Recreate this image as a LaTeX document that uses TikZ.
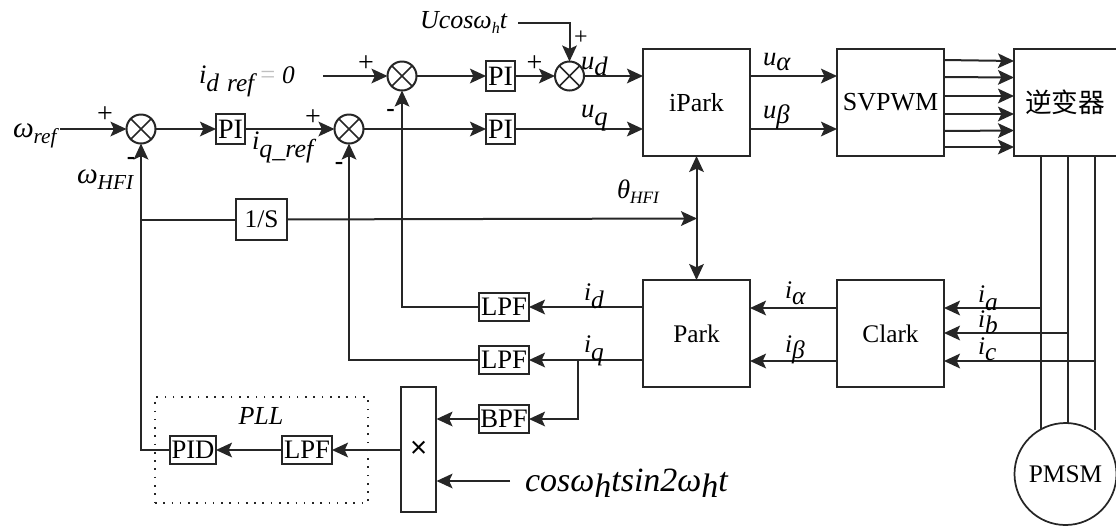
\documentclass[tikz,border=0pt]{standalone}
\usepackage{fontspec}
\setmainfont{Liberation Serif}
\newfontfamily\cjkf{Noto Sans CJK SC}
\newfontfamily\sansf{Liberation Sans}
\usetikzlibrary{arrows.meta,calc}
\newcommand{\fsz}[1]{\fontsize{#1}{#1}\selectfont}
\newcommand{\lw}[2]{\raisebox{-#1pt}{#2}}
\tikzset{
  wire/.style={line width=1.5pt,draw=black!85},
  arr/.style={wire,-{Stealth[length=12pt,width=11pt,inset=2.5pt]}},
  darr/.style={wire,{Stealth[length=12pt,width=11pt,inset=2.5pt]}-{Stealth[length=12pt,width=11pt,inset=2.5pt]}},
  bigbox/.style={draw=black!85,line width=1.5pt,rectangle,inner sep=0,outer sep=0,minimum width=80.25pt,minimum height=80.25pt,font=\fsz{19.5}},
  smallbox/.style={draw=black!85,line width=1.5pt,rectangle,inner sep=0,outer sep=0,minimum height=21pt,font=\fsz{20}},
  sumnode/.style={draw=black!85,line width=1.5pt,circle,inner sep=0,outer sep=0,minimum size=21.75pt,
    path picture={\draw[line width=1.1pt,black!85] (path picture bounding box.north west)--(path picture bounding box.south east)
      (path picture bounding box.north east)--(path picture bounding box.south west);}},
  lab/.style={inner sep=0,outer sep=0,anchor=base west,font=\fsz{18}\itshape},
  sgn/.style={inner sep=0,outer sep=0,font=\fsz{21}},
  msgn/.style={inner sep=0,outer sep=0,font=\fsz{19}\bfseries},
}
\begin{document}
\begin{tikzpicture}[x=.75pt,y=-.75pt]
\useasboundingbox (0,0) rectangle (1116,526);
% summers
\node[sumnode] (S1) at (141,129) {};
\node[sumnode] (S2) at (349,129) {};
\node[sumnode] (S3) at (402,76) {};
\node[sumnode] (S4) at (569.5,76) {};
% small boxes
\node[smallbox,minimum width=21.75pt,minimum height=22pt,font=\fsz{21}] (PIa) at (230.5,129) {PI};
\node[smallbox,minimum width=21.75pt,minimum height=22pt,font=\fsz{21}] (PIb) at (500.5,76) {PI};
\node[smallbox,minimum width=21.75pt,minimum height=22pt,font=\fsz{21}] (PIc) at (500.5,129) {PI};
\node[smallbox,minimum width=38pt,minimum height=31pt,font=\fsz{19}] (Int) at (261.5,219.5) {1/S};
\node[smallbox,minimum width=37.5pt] (LPFd) at (504,307) {LPF};
\node[smallbox,minimum width=37.5pt] (LPFq) at (504,360) {LPF};
\node[smallbox,minimum width=37.5pt] (BPF) at (504,419) {BPF};
\node[smallbox,minimum width=37.5pt] (LPFp) at (307,450) {LPF};
\node[smallbox,minimum width=34.5pt] (PID) at (193,450) {PID};
\node[smallbox,minimum width=26.5pt,minimum height=94pt,font=\sansf\fsz{22}] (Mul) at (418.7,449.5) {×};
% big boxes
\node[bigbox] (iPark) at (696.5,102.5) {iPark};
\node[bigbox] (SV) at (890.5,102.5) {SVPWM};
\node[bigbox,minimum width=78.75pt,font=\cjkf\fsz{20}] (Inv) at (1066.5,102.5) {\hspace*{-2pt}逆变器};
\node[bigbox,font=\fsz{19}] (Park) at (696.5,333.5) {Park};
\node[bigbox,font=\fsz{19}] (Clark) at (890.5,333.5) {Clark};
\node[draw=black!85,line width=1.3pt,circle,inner sep=0,outer sep=0,minimum size=76.5pt,font=\fsz{19}] (PMSM) at (1065.5,474) {\raisebox{-3pt}{PMSM}};
\node[draw=black!85,line width=1pt,dash pattern=on 1.2pt off 5pt,rectangle,inner sep=0,outer sep=0,minimum width=159.75pt,minimum height=79.5pt] (PLLbox) at (261.5,450) {};
% free ends
\coordinate (wr) at (60,129);
\coordinate (idr) at (323,76);
\coordinate (uc) at (518,23);
\coordinate (ucc) at (569.5,23);
\coordinate (cs) at (510,481);
\coordinate (mc) at (436.5,481);
\coordinate (mq) at (436.5,419);
\coordinate (j1) at (141,219.5);
\coordinate (tj) at (697,218.5);
\coordinate (pd) at (643,307);
\coordinate (pq) at (643,360);
\coordinate (jq) at (578,360);
\coordinate (ca) at (837,308);
\coordinate (cb) at (837,361);
\coordinate (pa) at (750,308);
\coordinate (pb) at (750,361);
\coordinate (cra) at (944,308);
\coordinate (crb) at (944,333);
\coordinate (crc) at (944,361);
\coordinate (la) at (1041,308);
\coordinate (lb) at (1069,333);
\coordinate (lc) at (1095,361);
\coordinate (ipa) at (643,76);
\coordinate (ipb) at (643,129);
\coordinate (ira) at (750,76);
\coordinate (irb) at (750,129);
\coordinate (sla) at (837,76);
\coordinate (slb) at (837,129);
% forward path
\draw[arr] (wr) -- (S1);
\draw[arr] (S1) -- (PIa);
\draw[arr] (PIa) -- (S2);
\draw[arr] (S2) -- (PIc);
\draw[arr] (idr) -- (S3);
\draw[arr] (S3) -- (PIb);
\draw[arr] (PIb) -- (S4);
\draw[arr] (uc) -- (ucc) -- (S4);
\draw[arr] (S4) -- (ipa);
\draw[arr] (PIc) -- (ipb);
\draw[arr] (ira) -- (sla);
\draw[arr] (irb) -- (slb);
% PWM signals
\foreach \a/\b in {60/61,77/77.5,96/96,114/114,131/130.5,147/147}{
  \draw[arr] (944,\a) -- (1014,\b);
}
% phase lines
\draw[wire] (1041,156) -- (1041,430);
\draw[wire] (1068,156) -- (1068,423);
\draw[wire] (1095,156) -- (1095,430);
% feedback
\draw[arr] (la) -- (cra);
\draw[arr] (lb) -- (crb);
\draw[arr] (lc) -- (crc);
\draw[arr] (ca) -- (pa);
\draw[arr] (cb) -- (pb);
\draw[arr] (pd) -- (LPFd);
\draw[arr] (pq) -- (LPFq);
\draw[arr] (jq) |- (BPF);
\draw[arr] (BPF) -- (mq);
\draw[arr] (LPFd) -| (S3);
\draw[arr] (LPFq) -| (S2);
\draw[arr] (cs) -- (mc);
\draw[arr] (Mul.west |- LPFp) -- (LPFp);
\draw[arr] (LPFp) -- (PID);
\draw[arr] (PID) -| (S1);
\draw[wire] (j1) -- (Int);
\draw[arr] (Int) -- (tj);
\draw[darr] (iPark) -- (Park);
% labels
\node[lab] (t1) at (13,137) {\fsz{22}ω\lw{5}{\fsz{16}ref}};
\node[lab] (t2) at (77,183) {\fsz{22}ω\lw{5}{\fsz{16}HFI}};
\node[lab] (t3) at (199,83) {\fsz{20}i\lw{6}{\fsz{19}d\hspace{6pt}ref}\textcolor{black!25}{\,=}\hspace{4pt}\fsz{19}0};
\node[lab] (t4) at (252,149) {\fsz{20}i\lw{6}{\fsz{19.5}q\_ref}};
\node[lab] (t5) at (420,28) {\fsz{19.5}Ucosω\lw{4}{\fsz{12}h}t};
\node[lab] (t6) at (581,69) {\fsz{20}u\lw{5}{d}};
\node[lab] (t7) at (581,117) {\fsz{20}u\lw{6}{q}};
\node[lab] (t8) at (617,198) {\fsz{20}θ\lw{4}{\fsz{13}HFI}};
\node[lab] (t9) at (763,65) {\fsz{20}u\lw{4}{α}};
\node[lab] (t10) at (763,118) {\fsz{20}u\lw{4}{β}};
\node[lab] (t11) at (584,300) {\fsz{19}i\lw{6}{d}};
\node[lab] (t12) at (584,352) {\fsz{19}i\lw{6}{q}};
\node[lab] (t13) at (785,298) {\fsz{19}i\lw{5}{α}};
\node[lab] (t14) at (785,352) {\fsz{19}i\lw{5}{β}};
\node[lab] (t15) at (978,302) {\fsz{19}i\lw{6}{a}};
\node[lab] (t16) at (978,327) {\fsz{19}i\lw{5}{b}};
\node[lab] (t17) at (978,354) {\fsz{19}i\lw{5}{c}};
\node[lab] (t18) at (525,491) {\fsz{25.5}cosω\lw{5}{h}tsin2ω\lw{5}{h}t};
\node[lab,anchor=base] (t19) at (261,424) {\fsz{19.5}PLL};
% signs
\node[sgn] (p1) at (105,115) {+};
\node[sgn] (p2) at (313,118) {+};
\node[sgn] (p3) at (366,64) {+};
\node[sgn] (p4) at (534.5,64) {+};
\node[sgn,font=\fsz{18}] (p5) at (581,38) {+};
\node[msgn] (m1) at (131,161) {-};
\node[msgn] (m2) at (339,166) {-};
\node[msgn] (m3) at (390.5,113) {-};
\end{tikzpicture}
\end{document}
